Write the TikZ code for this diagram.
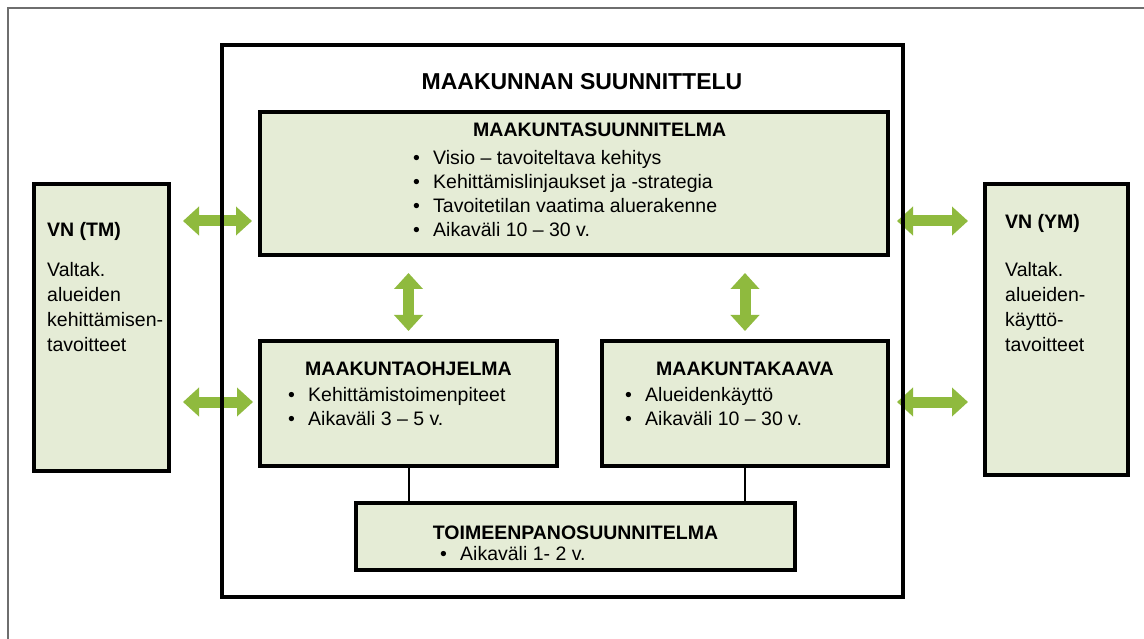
\documentclass[tikz,border=0pt]{standalone}
\usepackage{fontspec}
\setmainfont{Liberation Sans}
\usetikzlibrary{arrows.meta}
\usetikzlibrary{positioning}
\definecolor{boxgreen}{RGB}{229,236,214}
\definecolor{arrgreen}{RGB}{143,186,62}
\definecolor{framegray}{RGB}{110,110,110}
\newcommand\itm{\makebox[20pt][l]{\textbullet}}
\tikzstyle{box}=[draw,line width=3.2pt,fill=boxgreen,anchor=north west,inner sep=0pt,outer sep=0pt]
\tikzstyle{ttl}=[font=\bfseries\fontsize{19.5}{23}\selectfont,inner sep=0pt,anchor=base]
\tikzstyle{lst}=[font=\fontsize{19.5}{24}\selectfont,align=left,inner sep=0pt,anchor=north west]
\tikzstyle{garrow}=[arrgreen,line width=11pt,{Triangle[width=28pt,length=16pt]}-{Triangle[width=28pt,length=16pt]}]
\tikzstyle{conn}=[line width=2pt]

\begin{document}
\begin{tikzpicture}[x=1pt,y=-1pt]
	\useasboundingbox (0,0) rectangle (1144,639);
	\draw[framegray,line width=1.5pt] (8,639) -- (8,8) -- (1144,8);
	% boxes
	\node[box,minimum width=135pt,minimum height=287pt] (vntm) at (34,184) {};
	\node[box,minimum width=143pt,minimum height=291pt] (vnym) at (985,184) {};
	\node[box,minimum width=628pt,minimum height=143pt] (suun) at (260,112) {};
	\node[box,minimum width=297pt,minimum height=125pt] (ohj)  at (260,341) {};
	\node[box,minimum width=286pt,minimum height=125pt] (kaava) at (602,341) {};
	\node[box,minimum width=439pt,minimum height=67pt]  (toim) at (356,503) {};
	% texts
	\node[font=\bfseries\fontsize{23}{27}\selectfont,inner sep=0pt,anchor=base] (mtitle) at (582,90) {MAAKUNNAN SUUNNITTELU};
	\node[ttl,anchor=base west] (suunT) at (473,137) {MAAKUNTASUUNNITELMA};
	\node[lst] (suunL) at (413,150) {\itm Visio -- tavoiteltava kehitys\\ \itm Kehittämislinjaukset ja -strategia\\ \itm Tavoitetilan vaatima aluerakenne\\ \itm Aikaväli 10 -- 30 v.};
	\node[ttl] (ohjT) at (ohj.north |- 0,375) {MAAKUNTAOHJELMA};
	\node[lst] (ohjL) at (288,387) {\itm Kehittämistoimenpiteet\\ \itm Aikaväli 3 -- 5 v.};
	\node[ttl] (kaavaT) at (kaava.north |- 0,375) {MAAKUNTAKAAVA};
	\node[lst] (kaavaL) at (625,387) {\itm Alueidenkäyttö\\ \itm Aikaväli 10 -- 30 v.};
	\node[ttl] (toimT) at (toim.north |- 0,539) {TOIMEENPANOSUUNNITELMA};
	\node[lst] (toimL) at (440,546) {\itm Aikaväli 1- 2 v.};
	\node[ttl,anchor=base west] (vntmT) at (47,237) {VN (TM)};
	\node[lst,font=\fontsize{19.5}{25}\selectfont] (vntmL) at (47,262) {Valtak.\\ alueiden\\ kehittämisen-\\ tavoitteet};
	\node[ttl,anchor=base west] (vnymT) at (1005,229) {VN (YM)};
	\node[lst,font=\fontsize{19.5}{25}\selectfont] (vnymL) at (1005,262) {Valtak.\\ alueiden-\\ käyttö-\\ tavoitteet};
	% connectors
	\coordinate (rowA) at (0,221);
	\coordinate (rowB) at (0,402);
	\draw[garrow] ([xshift=14pt]vntm.east |- rowA) -- ([xshift=-8pt]suun.west |- rowA);
	\draw[garrow] ([xshift=14pt]vntm.east |- rowB) -- ([xshift=-7pt]ohj.west |- rowB);
	\draw[garrow] ([xshift=9pt]suun.east |- rowA) -- ([xshift=-17pt]vnym.west |- rowA);
	\draw[garrow] ([xshift=9pt]kaava.east |- rowB) -- ([xshift=-17pt]vnym.west |- rowB);
	\draw[garrow] ([yshift=-18pt]suun.south -| ohj.north) -- ([yshift=10pt]ohj.north);
	\draw[garrow] ([yshift=-18pt]suun.south -| kaava.north) -- ([yshift=10pt]kaava.north);
	\draw[conn] (ohj.south) -- (ohj.south |- toim.north);
	\draw[conn] (kaava.south) -- (kaava.south |- toim.north);
	% outer planning frame
	\node[box,fill=none,minimum width=681pt,minimum height=552pt] (main) at (222,45) {};
\end{tikzpicture}
\end{document}
